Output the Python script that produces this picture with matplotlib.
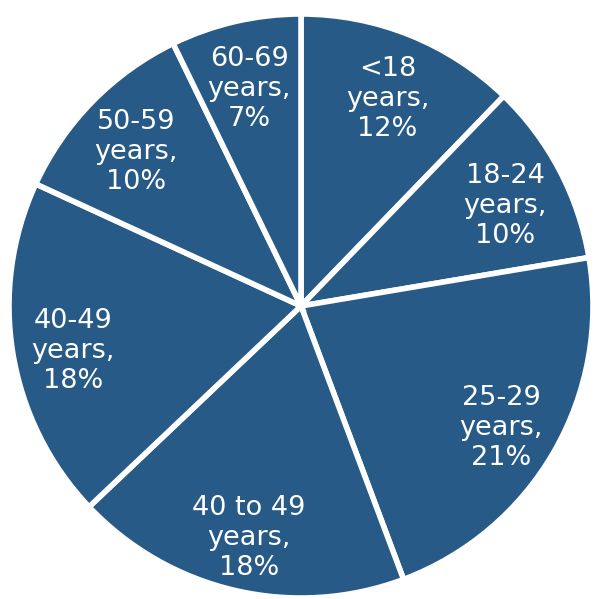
import matplotlib
matplotlib.use('Agg')
import matplotlib.pyplot as plt

# age groups and their shares (%);
# the labels show the whole-number part
groups = ['<18', '18-24', '25-29', '40 to 49', '40-49', '50-59', '60-69']
shares = [12.2, 10.1, 21.9, 18.6, 18.9, 10.9, 7.2]

labels = [f'{g}\nyears,\n{int(s)}%' for g, s in zip(groups, shares)]

fig = plt.figure(figsize=(5.95, 5.99), dpi=100)
r_px = 292
cx, cy = 301, 306
ax = fig.add_axes([(cx - r_px) / 595, (599 - cy - r_px) / 599, 2 * r_px / 595, 2 * r_px / 599])

wedges, texts = ax.pie(shares, labels=labels, startangle=90, counterclock=False,
                       colors=['#275A87'] * len(shares), labeldistance=0.79,
                       wedgeprops=dict(edgecolor='white', linewidth=4),
                       textprops=dict(color='white', fontsize=19.5, family='DejaVu Sans',
                                      linespacing=1.2))
for t in texts:
    t.set_horizontalalignment('center')
    t.set_verticalalignment('center')
    t.set_multialignment('center')
    # labels sit a little lower than the slice midpoints
    x, y = t.get_position()
    t.set_position((x, y - 0.025))

ax.set_xlim(-1, 1)
ax.set_ylim(-1, 1)
ax.set_aspect('equal')
ax.axis('off')

fig.savefig('out.png', dpi=100)
